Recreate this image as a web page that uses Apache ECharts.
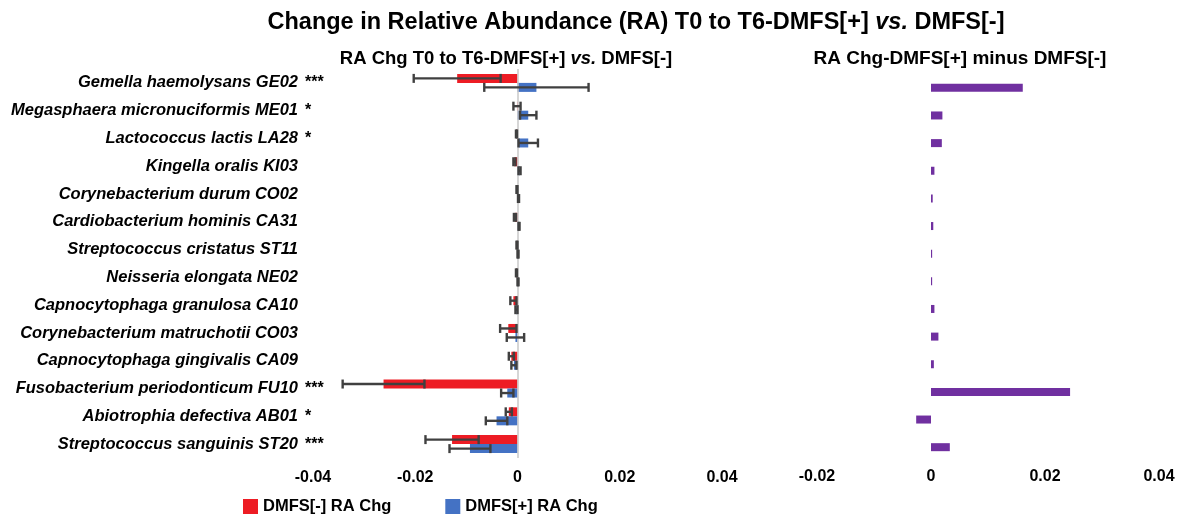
<!DOCTYPE html>
<html>
<head>
<meta charset="utf-8">
<script src="https://cdn.jsdelivr.net/npm/echarts@6/dist/echarts.min.js"></script>
<style>
html,body{margin:0;padding:0;background:#fff;}
#chart{width:1180px;height:518px;}
</style>
</head>
<body>
<div id="chart"></div>
<script>
const categories = [
  'Gemella haemolysans GE02', 'Megasphaera micronuciformis ME01', 'Lactococcus lactis LA28',
  'Kingella oralis KI03', 'Corynebacterium durum CO02', 'Cardiobacterium hominis CA31',
  'Streptococcus cristatus ST11', 'Neisseria elongata NE02', 'Capnocytophaga granulosa CA10',
  'Corynebacterium matruchotii CO03', 'Capnocytophaga gingivalis CA09', 'Fusobacterium periodonticum FU10',
  'Abiotrophia defectiva AB01', 'Streptococcus sanguinis ST20'
];
const stars = ['***', '*', '*', '', '', '', '', '', '', '', '', '***', '*', '***'];
const negValues = [-0.0118, -0.0001, -0.0002, -0.0006, -0.0001, -0.0005, -0.0001, -0.0002, -0.0008, -0.0018, -0.0012, -0.0262, -0.0017, -0.0128];
const negErrors = [0.0085, 0.0007, 0.0001, 0.0002, 0.0001, 0.0002, 0.0001, 0.0001, 0.0006, 0.0016, 0.0005, 0.0080, 0.0006, 0.0052];
const posValues = [0.0037, 0.0021, 0.0021, 0.0004, 0.0002, 0.0003, 0.0001, 0.0001, -0.0002, -0.0004, -0.0007, -0.0020, -0.0041, -0.0093];
const posErrors = [0.0102, 0.0016, 0.0019, 0.0002, 0.0001, 0.0001, 0.0001, 0.0001, 0.0002, 0.0017, 0.0005, 0.0012, 0.0021, 0.0040];
const diffValues = [0.0161, 0.0020, 0.0019, 0.0006, 0.0003, 0.0004, 0.0002, 0.0002, 0.0006, 0.0013, 0.0005, 0.0244, -0.0026, 0.0033];
const leftTicks = { min: -0.04, max: 0.04, interval: 0.02 };
const rightTicks = { min: -0.02, max: 0.04, interval: 0.02 };

const FONT = '"Liberation Sans", Arial, sans-serif';
const RED = '#ED1C24', BLUE = '#4472C4', PURPLE = '#7030A0', ERR = '#404040';
const BAR_W = 9;

function errRender(offset) {
  return function (params, api) {
    const v = api.value(0), c = api.value(1), e = api.value(2);
    const a = api.coord([v - e, c]);
    const b = api.coord([v + e, c]);
    const y = a[1] + offset;
    const h = 4.5;
    const style = { stroke: ERR, lineWidth: 2.4 };
    return {
      type: 'group',
      children: [
        { type: 'line', shape: { x1: a[0], y1: y, x2: b[0], y2: y }, style },
        { type: 'line', shape: { x1: a[0], y1: y - h, x2: a[0], y2: y + h }, style },
        { type: 'line', shape: { x1: b[0], y1: y - h, x2: b[0], y2: y + h }, style }
      ]
    };
  };
}

const fmt = v => (Math.abs(v) < 1e-9 ? '0' : String(+v.toFixed(2)));
const tickLabel = { fontFamily: FONT, fontWeight: 'bold', fontSize: 16, color: '#000' };
const chart = echarts.init(document.getElementById('chart'));
chart.setOption({
  animation: false,
  backgroundColor: '#fff',
  title: [
    {
      text: '{a|Change in Relative Abundance (RA) T0 to T6-DMFS[+] }{i|vs.}{a| DMFS[-]}',
      left: 631, top: 6, textAlign: 'center',
      textStyle: { rich: {
        a: { fontFamily: FONT, fontWeight: 'bold', fontSize: 23.5, color: '#000' },
        i: { fontFamily: FONT, fontWeight: 'bold', fontStyle: 'italic', fontSize: 23.5, color: '#000' }
      } }
    },
    {
      text: '{a|RA Chg T0 to T6-DMFS[+] }{i|vs.}{a| DMFS[-]}',
      left: 501, top: 44, textAlign: 'center',
      textStyle: { rich: {
        a: { fontFamily: FONT, fontWeight: 'bold', fontSize: 18.5, color: '#000' },
        i: { fontFamily: FONT, fontWeight: 'bold', fontStyle: 'italic', fontSize: 18.5, color: '#000' }
      } }
    },
    {
      text: 'RA Chg-DMFS[+] minus DMFS[-]',
      left: 955, top: 44, textAlign: 'center',
      textStyle: { fontFamily: FONT, fontWeight: 'bold', fontSize: 19, color: '#000' }
    }
  ],
  legend: {
    data: ['DMFS[-] RA Chg', 'DMFS[+] RA Chg'],
    left: 238, top: 493, itemWidth: 15, itemHeight: 15, itemGap: 54,
    icon: 'rect',
    textStyle: { fontFamily: FONT, fontWeight: 'bold', fontSize: 16.5, color: '#000' }
  },
  grid: [
    { left: 313, width: 409, top: 69, height: 389 },
    { left: 817, width: 342, top: 74, height: 387 }
  ],
  xAxis: [
    {
      gridIndex: 0, type: 'value', min: leftTicks.min, max: leftTicks.max, interval: leftTicks.interval,
      axisLine: { show: false }, axisTick: { show: false }, splitLine: { show: false },
      axisLabel: Object.assign({ margin: 12, formatter: fmt }, tickLabel)
    },
    {
      gridIndex: 1, type: 'value', min: rightTicks.min, max: rightTicks.max, interval: rightTicks.interval,
      axisLine: { show: false }, axisTick: { show: false }, splitLine: { show: false },
      axisLabel: Object.assign({ margin: 8, showMaxLabel: true, showMinLabel: true, formatter: fmt }, tickLabel)
    }
  ],
  yAxis: [
    {
      gridIndex: 0, type: 'category', data: categories, inverse: true,
      axisLine: { show: false, onZero: false }, axisTick: { show: false },
      axisLabel: { margin: 15, fontFamily: FONT, fontWeight: 'bold', fontStyle: 'italic', fontSize: 16.5, color: '#000', interval: 0 }
    },
    {
      gridIndex: 0, type: 'category', data: stars, inverse: true, position: 'left',
      axisLine: { show: false, onZero: false }, axisTick: { show: false },
      axisLabel: { margin: 8, align: 'left', fontFamily: FONT, fontWeight: 'bold', fontSize: 16, color: '#000', interval: 0 }
    },
    {
      gridIndex: 1, type: 'category', data: categories, inverse: true,
      axisLine: { show: false, onZero: false }, axisTick: { show: false }, axisLabel: { show: false }
    }
  ],
  series: [
    {
      name: 'DMFS[-] RA Chg', type: 'bar', xAxisIndex: 0, yAxisIndex: 0,
      data: negValues, barWidth: BAR_W, barGap: '0%', itemStyle: { color: RED },
      markLine: {
        silent: true, symbol: ['none', 'none'], label: { show: false },
        lineStyle: { color: '#C8C8C8', width: 1.5, type: 'solid' },
        data: [{ xAxis: 0 }]
      }
    },
    {
      name: 'DMFS[+] RA Chg', type: 'bar', xAxisIndex: 0, yAxisIndex: 0,
      data: posValues, barWidth: BAR_W, barGap: '0%', itemStyle: { color: BLUE }
    },
    {
      type: 'custom', xAxisIndex: 0, yAxisIndex: 0, z: 5,
      renderItem: errRender(-BAR_W / 2),
      encode: { x: 0, y: 1 },
      data: negValues.map((v, i) => [v, i, negErrors[i]])
    },
    {
      type: 'custom', xAxisIndex: 0, yAxisIndex: 0, z: 5,
      renderItem: errRender(BAR_W / 2),
      encode: { x: 0, y: 1 },
      data: posValues.map((v, i) => [v, i, posErrors[i]])
    },
    {
      name: 'diff', type: 'bar', xAxisIndex: 1, yAxisIndex: 2,
      data: diffValues, barWidth: 8, itemStyle: { color: PURPLE }
    }
  ]
});
</script>
</body>
</html>
